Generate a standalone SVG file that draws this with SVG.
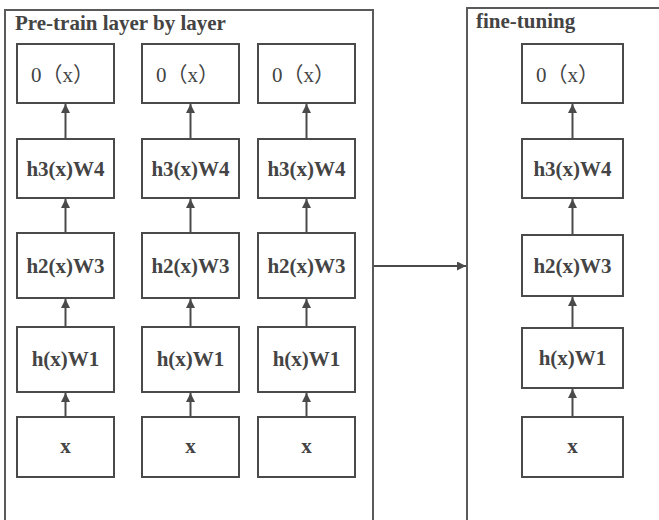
<svg xmlns="http://www.w3.org/2000/svg" width="659" height="520" viewBox="0 0 659 520">
<style>
.frame{fill:none;stroke:#5a5a5a;stroke-width:2}
.box{fill:#fff;stroke:#4a4a4a;stroke-width:2}
.lbl{font-family:"Liberation Serif","Times New Roman",serif;font-weight:bold;font-size:21px;fill:#444;text-anchor:middle}
.out{font-family:"Liberation Serif","Noto Sans CJK SC",serif;font-size:21px;fill:#444}
.title{font-family:"Liberation Serif","Times New Roman",serif;font-weight:bold;font-size:21px;fill:#444}
.conn{stroke:#4a4a4a;stroke-width:2;fill:none;marker-end:url(#ah)}
</style>
<defs>
<marker id="ah" viewBox="0 0 10 10" refX="10" refY="5" markerWidth="5" markerHeight="4.5" orient="auto" markerUnits="strokeWidth">
<path d="M0,0 L10,5 L0,10 z" fill="#4a4a4a"/>
</marker>
</defs>
<rect width="659" height="520" fill="#fff"/>
<g id="pretrain">
<rect class="frame" x="5" y="10" width="368" height="520"/>
<text class="title" x="15" y="30">Pre-train layer by layer</text>
</g>
<g id="finetune">
<rect class="frame" x="467" y="8" width="210" height="520"/>
<text class="title" x="476" y="28">fine-tuning</text>
</g>
<g id="c1-o"><rect class="box" x="17" y="44" width="97" height="59"/><text class="out" x="31" y="82">0（x）</text></g>
<g id="c1-h3"><rect class="box" x="17" y="139" width="97" height="59"/><text class="lbl" x="65.5" y="176">h3(x)W4</text></g>
<g id="c1-h2"><rect class="box" x="17" y="233" width="97" height="65"/><text class="lbl" x="65.5" y="273">h2(x)W3</text></g>
<g id="c1-h1"><rect class="box" x="17" y="327" width="97" height="65"/><text class="lbl" x="65.5" y="366">h(x)W1</text></g>
<g id="c1-x"><rect class="box" x="17" y="417" width="97" height="60"/><text class="lbl" x="65.5" y="453">x</text></g>
<g id="c2-o"><rect class="box" x="142" y="44" width="97" height="59"/><text class="out" x="156" y="82">0（x）</text></g>
<g id="c2-h3"><rect class="box" x="142" y="139" width="97" height="59"/><text class="lbl" x="190.5" y="176">h3(x)W4</text></g>
<g id="c2-h2"><rect class="box" x="142" y="233" width="97" height="65"/><text class="lbl" x="190.5" y="273">h2(x)W3</text></g>
<g id="c2-h1"><rect class="box" x="142" y="327" width="97" height="65"/><text class="lbl" x="190.5" y="366">h(x)W1</text></g>
<g id="c2-x"><rect class="box" x="142" y="417" width="97" height="60"/><text class="lbl" x="190.5" y="453">x</text></g>
<g id="c3-o"><rect class="box" x="258" y="44" width="97" height="59"/><text class="out" x="272" y="82">0（x）</text></g>
<g id="c3-h3"><rect class="box" x="258" y="139" width="97" height="59"/><text class="lbl" x="306.5" y="176">h3(x)W4</text></g>
<g id="c3-h2"><rect class="box" x="258" y="233" width="97" height="65"/><text class="lbl" x="306.5" y="273">h2(x)W3</text></g>
<g id="c3-h1"><rect class="box" x="258" y="327" width="97" height="65"/><text class="lbl" x="306.5" y="366">h(x)W1</text></g>
<g id="c3-x"><rect class="box" x="258" y="417" width="97" height="60"/><text class="lbl" x="306.5" y="453">x</text></g>
<g id="f-o"><rect class="box" x="522" y="44" width="101" height="59"/><text class="out" x="536" y="82">0（x）</text></g>
<g id="f-h3"><rect class="box" x="522" y="139" width="101" height="59"/><text class="lbl" x="572.5" y="176">h3(x)W4</text></g>
<g id="f-h2"><rect class="box" x="522" y="235" width="101" height="61"/><text class="lbl" x="572.5" y="273">h2(x)W3</text></g>
<g id="f-h1"><rect class="box" x="522" y="328" width="101" height="60"/><text class="lbl" x="572.5" y="365">h(x)W1</text></g>
<g id="f-x"><rect class="box" x="522" y="417" width="101" height="60"/><text class="lbl" x="572.5" y="453">x</text></g>
<g id="connectors">
<line class="conn" x1="65.5" y1="139" x2="65.5" y2="104"/>
<line class="conn" x1="65.5" y1="233" x2="65.5" y2="199"/>
<line class="conn" x1="65.5" y1="327" x2="65.5" y2="299"/>
<line class="conn" x1="65.5" y1="417" x2="65.5" y2="393"/>
<line class="conn" x1="190.5" y1="139" x2="190.5" y2="104"/>
<line class="conn" x1="190.5" y1="233" x2="190.5" y2="199"/>
<line class="conn" x1="190.5" y1="327" x2="190.5" y2="299"/>
<line class="conn" x1="190.5" y1="417" x2="190.5" y2="393"/>
<line class="conn" x1="306.5" y1="139" x2="306.5" y2="104"/>
<line class="conn" x1="306.5" y1="233" x2="306.5" y2="199"/>
<line class="conn" x1="306.5" y1="327" x2="306.5" y2="299"/>
<line class="conn" x1="306.5" y1="417" x2="306.5" y2="393"/>
<line class="conn" x1="572.5" y1="139" x2="572.5" y2="104"/>
<line class="conn" x1="572.5" y1="235" x2="572.5" y2="199"/>
<line class="conn" x1="572.5" y1="328" x2="572.5" y2="297"/>
<line class="conn" x1="572.5" y1="417" x2="572.5" y2="389"/>
<line class="conn" x1="374" y1="266" x2="466" y2="266"/>
</g>
</svg>
